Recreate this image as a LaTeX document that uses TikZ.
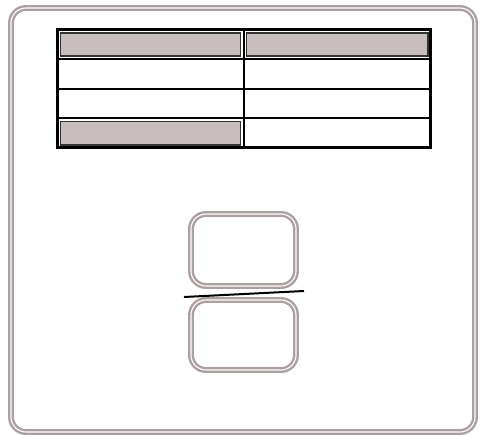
\documentclass[tikz,border=0pt]{standalone}
\definecolor{frame}{HTML}{AB9F9F}
\definecolor{cellgray}{HTML}{C8BEBD}
\tikzset{
  dbl/.style={draw=frame, line width=2.4pt, double=white, double distance=1.1pt, rounded corners=#1},
  tbl/.style={draw=black, line width=2pt},
  hdr/.style={draw=black!80, line width=1.8pt, fill=cellgray},
}
\begin{document}
\begin{tikzpicture}[x=1pt,y=-1pt]
\useasboundingbox (0,0) rectangle (484,434);
\fill[white] (0,0) rectangle (484,434);
% outer frame
\draw[dbl=15pt] (11,8) rectangle (475,432);
% table
\draw[tbl, line width=3pt] (57.5,29.5) rectangle (430.5,147.5);
\draw[tbl] (57.5,59) -- (430.5,59);
\draw[tbl] (57.5,89) -- (430.5,89);
\draw[tbl] (57.5,118) -- (430.5,118);
\draw[tbl] (243.5,29.5) -- (243.5,147.5);
\draw[hdr] (60.5,33) rectangle (240.5,56);
\draw[hdr] (246.5,33) rectangle (428,56);
\draw[hdr] (60.5,121.5) rectangle (240.5,145);
% two rounded boxes
\node[dbl=15pt, minimum width=105pt, minimum height=72pt, inner sep=0] (top) at (243.5,250) {};
\node[dbl=15pt, minimum width=105pt, minimum height=70pt, inner sep=0] (bot) at (243.5,335) {};
\coordinate (la) at (184,297);
\coordinate (lb) at (304,291);
\draw[black, line width=2pt] (la) -- (lb);
\end{tikzpicture}
\end{document}
